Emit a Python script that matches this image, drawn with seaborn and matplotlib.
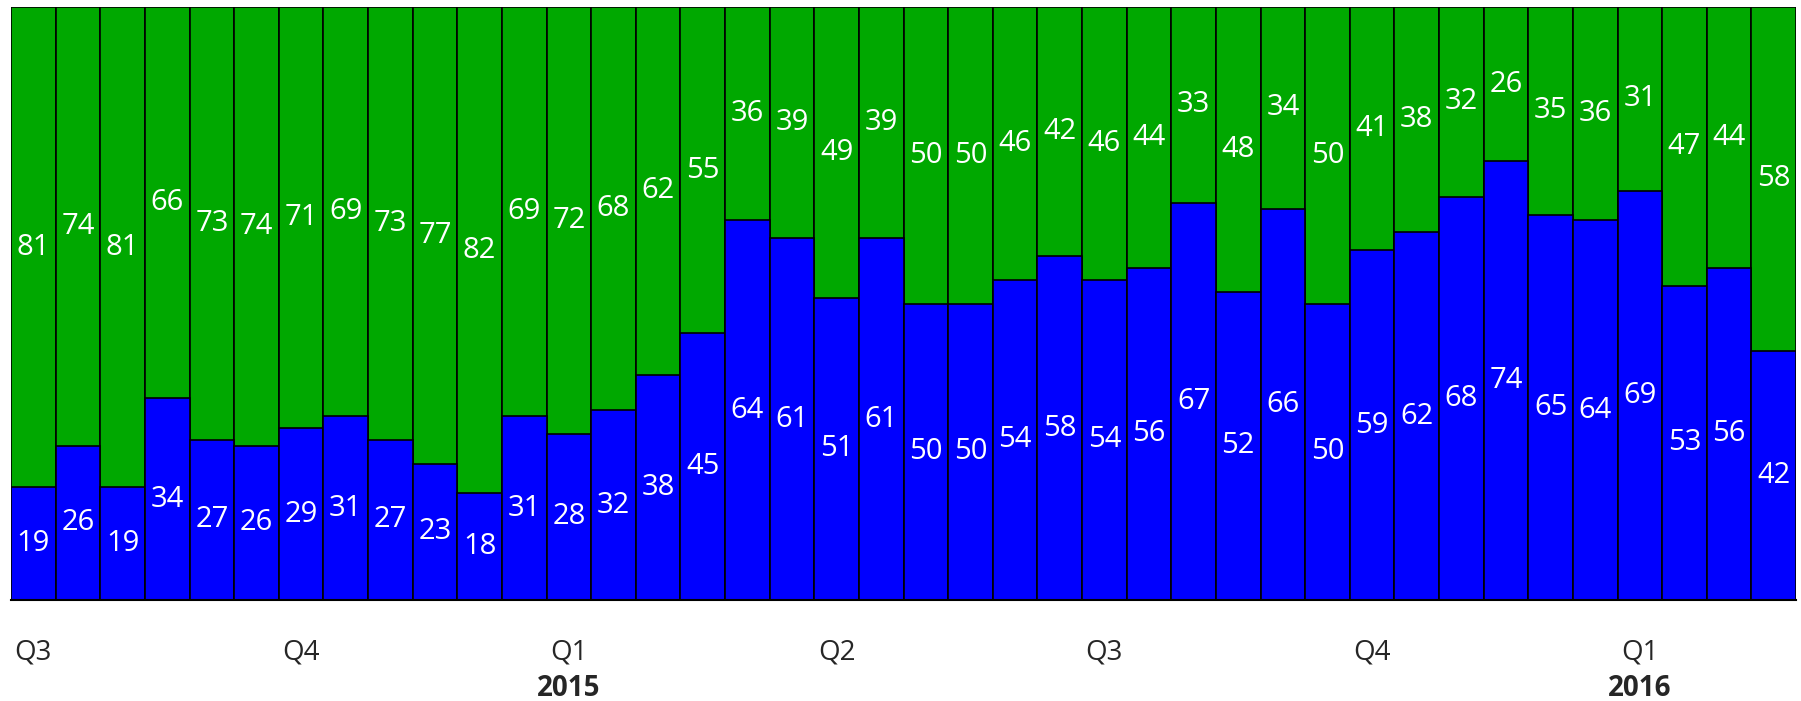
# Stacked 100% bars per period, blue share at the bottom, green share on top
import pandas as pd
import numpy as np
import matplotlib
matplotlib.use("Agg")
import matplotlib.pyplot as plt
import matplotlib.transforms as mtransforms
import seaborn as sns

# Data
blue_share = [19, 26, 19, 34, 27, 26, 29, 31, 27, 23, 18, 31, 28, 32, 38, 45,
              64, 61, 51, 61, 50, 50, 54, 58, 54, 56, 67, 52, 66, 50, 59, 62,
              68, 74, 65, 64, 69, 53, 56, 42]
green_share = [100 - b for b in blue_share]
quarter_ticks = [0, 6, 12, 18, 24, 30, 36]
quarter_labels = ["Q3", "Q4", "Q1", "Q2", "Q3", "Q4", "Q1"]
year_ticks = [12, 36]
year_labels = ["2015", "2016"]

df = pd.DataFrame({"period": list(range(len(blue_share))),
                   "blue": blue_share,
                   "green": green_share})
df["total"] = df["blue"] + df["green"]

sns.set_style("white")
plt.rcParams['font.family'] = ['Open Sans', 'DejaVu Sans']

fig = plt.figure(figsize=(18.01, 7.01), dpi=100)
ax = fig.add_axes([11 / 1801, 101 / 701, 1785 / 1801, 593 / 701])

# Green drawn as the full stack, blue over it from zero
sns.barplot(data=df, x="period", y="total", color="#00A800", saturation=1,
            width=1, edgecolor="black", linewidth=1.2, ax=ax)
sns.barplot(data=df, x="period", y="blue", color="#0000FF", saturation=1,
            width=1, edgecolor="black", linewidth=1.2, ax=ax)

green_bars = ax.containers[0]
blue_bars = ax.containers[1]
ax.bar_label(blue_bars, labels=[str(v) for v in blue_share], label_type="center",
             color="white", fontsize=21)
# green label in middle of the green segment
for i, g in enumerate(green_share):
    ax.text(i, blue_share[i] + g / 2, str(g), ha="center", va="center",
            color="white", fontsize=21)

ax.set_xlim(-0.5, len(blue_share) - 0.5)
ax.set_ylim(0, 100)
ax.set_yticks([])
ax.set_xticks(quarter_ticks)
ax.set_xticklabels(quarter_labels, fontsize=20)
ax.tick_params(axis="x", length=0, pad=28)
ax.set_xlabel("")
ax.set_ylabel("")
for pos in ["top", "right", "left"]:
    ax.spines[pos].set_visible(False)
ax.spines["bottom"].set_color("black")
ax.spines["bottom"].set_linewidth(1.5)

trans = mtransforms.blended_transform_factory(ax.transData, fig.transFigure)
for x, lab in zip(year_ticks, year_labels):
    ax.text(x, 1 - 688 / 701, lab, transform=trans, ha="center", va="center",
            fontsize=20, fontweight="bold")

plt.savefig("out.png", dpi=100)
plt.close()
